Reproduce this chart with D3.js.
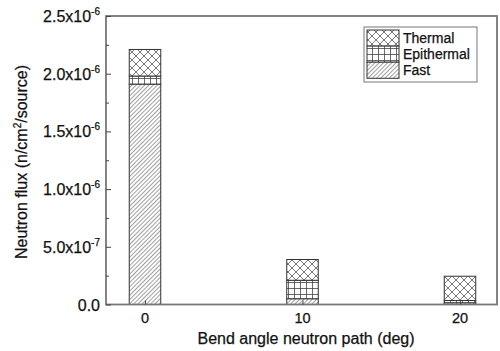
<!DOCTYPE html>
<html><head><meta charset="utf-8">
<script src="https://cdn.jsdelivr.net/npm/d3@7"></script>
<style>
body{margin:0;background:#fff;}
text{font-family:"Liberation Sans",Arial,sans-serif;fill:#111;stroke:#111;stroke-width:0.25px;}
</style></head>
<body><svg id="c" width="500" height="351"></svg>
<script>
const angles = [0, 10, 20];
const fast = [1.91e-6, 0.05e-6, 0.015e-6];
const epithermal = [0.07e-6, 0.16e-6, 0.02e-6];
const thermal = [0.23e-6, 0.18e-6, 0.21e-6];
const seriesNames = ["Thermal", "Epithermal", "Fast"];
const yTicks = [0, 5e-7, 1e-6, 1.5e-6, 2e-6, 2.5e-6];
const yTickMantissa = ["0.0", "5.0x10", "1.0x10", "1.5x10", "2.0x10", "2.5x10"];
const yTickExp = ["", "-7", "-6", "-6", "-6", "-6"];
const xTicks = [0, 10, 20];

const svg = d3.select("#c");
const L = 106, T = 16, R = 497, B = 304.5;
const x = d3.scaleLinear().domain([-2.476, 22.35]).range([L, R]);
const y = d3.scaleLinear().domain([0, 2.5e-6]).range([B, T]);
const barW = 2.0;

const defs = svg.append("defs");
const pT = defs.append("pattern").attr("id","pThermal").attr("patternUnits","userSpaceOnUse").attr("width",8).attr("height",8);
pT.append("rect").attr("width",8).attr("height",8).attr("fill","#fff");
pT.append("path").attr("d","M0,0L8,8M0,8L8,0").attr("stroke","#555").attr("stroke-width",0.8);
const pE = defs.append("pattern").attr("id","pEpi").attr("patternUnits","userSpaceOnUse").attr("width",6).attr("height",6);
pE.append("rect").attr("width",6).attr("height",6).attr("fill","#fff");
pE.append("path").attr("d","M0,0.5H6M0.5,0V6").attr("stroke","#444").attr("stroke-width",0.8);
const pF = defs.append("pattern").attr("id","pFast").attr("patternUnits","userSpaceOnUse").attr("width",3).attr("height",3).attr("patternTransform","rotate(45)");
pF.append("rect").attr("width",3).attr("height",3).attr("fill","#fff");
pF.append("line").attr("x1",0.5).attr("x2",0.5).attr("y1",0).attr("y2",3).attr("stroke","#888").attr("stroke-width",0.8);
const fills = {Thermal:"url(#pThermal)", Epithermal:"url(#pEpi)", Fast:"url(#pFast)"};

// bars
const stackOrder = [["Fast", fast], ["Epithermal", epithermal], ["Thermal", thermal]];
angles.forEach((a, i) => {
  let base = 0;
  stackOrder.forEach(([name, arr]) => {
    const v = arr[i];
    svg.append("rect")
      .attr("x", x(a - barW/2)).attr("width", x(a + barW/2) - x(a - barW/2))
      .attr("y", y(base + v)).attr("height", y(base) - y(base + v))
      .attr("fill", fills[name]).attr("stroke", "#333").attr("stroke-width", 1);
    base += v;
  });
});

// frame
svg.append("rect").attr("x", L).attr("y", T).attr("width", R - L).attr("height", B - T)
  .attr("fill", "none").attr("stroke", "#777").attr("stroke-width", 1.8);

// y ticks (inward)
const yAxis = d3.axisLeft(y).tickValues(yTicks).tickSize(-5).tickFormat("");
const gy = svg.append("g").attr("transform", `translate(${L},0)`).call(yAxis);
gy.select(".domain").remove();
gy.selectAll(".tick line").attr("stroke", "#444");
const yMinor = d3.axisLeft(y).tickValues(yTicks.slice(0, 5).map(v => v + 2.5e-7)).tickSize(-3).tickFormat("");
const gym = svg.append("g").attr("transform", `translate(${L},0)`).call(yMinor);
gym.select(".domain").remove();
gym.selectAll(".tick line").attr("stroke", "#444");

yTicks.forEach((v, i) => {
  const t = svg.append("text").attr("x", 100).attr("y", y(v) + 6).attr("text-anchor", "end").attr("font-size", 16);
  t.append("tspan").text(yTickMantissa[i]);
  if (yTickExp[i]) t.append("tspan").attr("dy", -7).attr("font-size", 10).text(yTickExp[i]);
});

// x ticks
const xAxis = d3.axisBottom(x).tickValues(xTicks).tickSize(-4).tickFormat("");
const gx = svg.append("g").attr("transform", `translate(0,${B})`).call(xAxis);
gx.select(".domain").remove();
gx.selectAll(".tick line").attr("stroke", "#444");
xTicks.forEach(v => {
  svg.append("text").attr("x", x(v)).attr("y", 322.5).attr("text-anchor", "middle").attr("font-size", 14.5).text(v);
});

// axis titles
svg.append("text").attr("x", 306).attr("y", 344).attr("text-anchor", "middle").attr("font-size", 16)
  .text("Bend angle neutron path (deg)");
const yl = svg.append("text").attr("transform", "translate(27,162) rotate(-90)").attr("text-anchor", "middle")
  .attr("font-size", 16);
yl.append("tspan").text("Neutron flux (n/cm");
yl.append("tspan").attr("dy", -6).attr("font-size", 10).text("2");
yl.append("tspan").attr("dy", 6).text("/source)");

// legend
const lg = svg.append("g");
lg.append("rect").attr("x", 364).attr("y", 27).attr("width", 113).attr("height", 55)
  .attr("fill", "#fff").attr("stroke", "#777").attr("stroke-width", 1);
seriesNames.forEach((n, i) => {
  const yy = 30 + i * 16.1;
  lg.append("rect").attr("x", 367).attr("y", yy).attr("width", 32).attr("height", 16.1)
    .attr("fill", fills[n]).attr("stroke", "#333").attr("stroke-width", 1);
  lg.append("text").attr("x", 403).attr("y", yy + 13).attr("font-size", 14).text(n);
});
</script></body></html>
